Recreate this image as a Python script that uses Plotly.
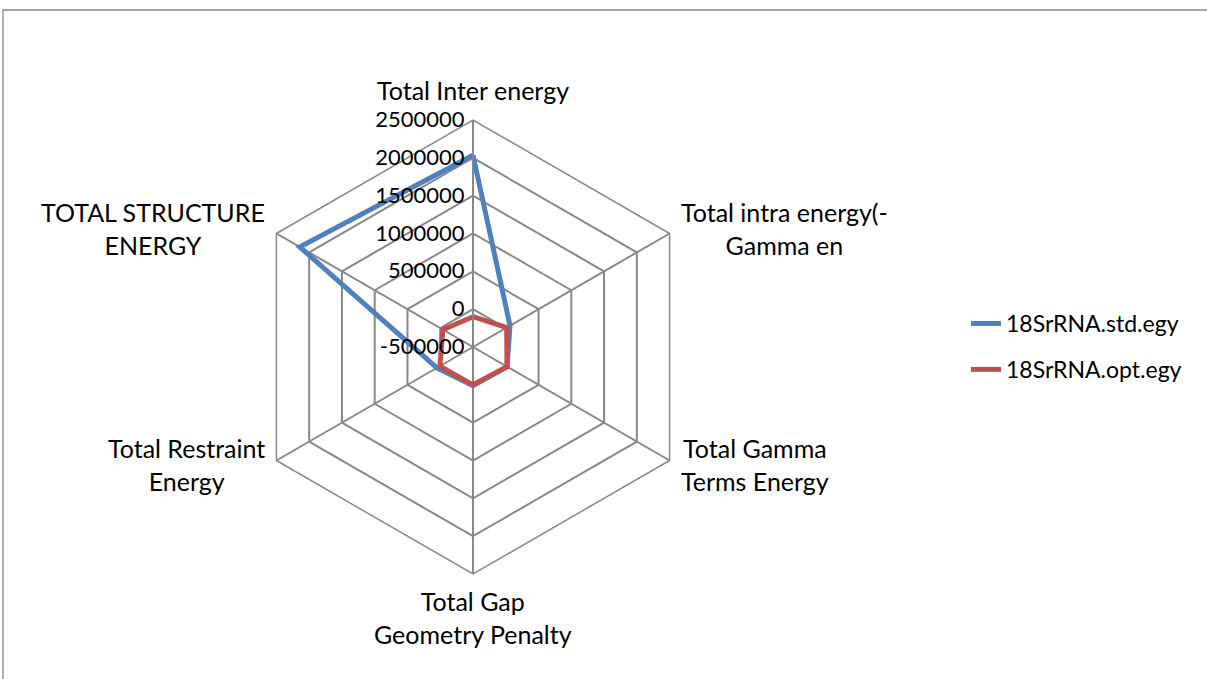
import math
import plotly.graph_objects as go

# Energy terms (clockwise from the top)
categories = [
    "Total Inter energy",
    "Total intra energy(-<br>Gamma en",
    "Total Gamma<br>Terms Energy",
    "Total Gap<br>Geometry Penalty",
    "Total Restraint<br>Energy",
    "TOTAL STRUCTURE<br>ENERGY",
]
std_egy = [2035000, 65000, 20000, 10000, 50000, 2145000]
opt_egy = [-100000, 15000, 20000, 0, 5000, -40000]

radial_ticks = [-500000, 0, 500000, 1000000, 1500000, 2000000, 2500000]

FONT = "Lato"
GRID = "#888888"

fig = go.Figure()
fig.add_trace(go.Scatterpolar(
    r=std_egy + std_egy[:1], theta=categories + categories[:1],
    mode="lines", name="18SrRNA.std.egy", legendgroup="std",
    line=dict(color="#4F81BD", width=5),
))
fig.add_trace(go.Scatterpolar(
    r=opt_egy + opt_egy[:1], theta=categories + categories[:1],
    mode="lines", name="18SrRNA.opt.egy", legendgroup="opt",
    line=dict(color="#C0504D", width=5),
))

W, H = 1207, 679
cx, cy, R = 473, 347, 227

# category labels placed just outside each outer vertex, text centred
annotations = []
n = len(categories)
for i, label in enumerate(categories):
    ang = math.pi / 2 - 2 * math.pi * i / n
    vx = cx + R * math.cos(ang)
    vy = cy - R * math.sin(ang)
    c = math.cos(ang)
    s = math.sin(ang)
    if abs(c) < 1e-6:
        xa = "center"
        ya = "bottom" if s > 0 else "top"
        px, py = vx, (vy - 13 if s > 0 else vy + 10)
    else:
        xa = "left" if c > 0 else "right"
        ya = "middle"
        px = vx + (9 if c > 0 else -9)
        py = vy - 5 if s > 0 else vy + 4
    annotations.append(dict(
        text=label, x=px / W, y=(H - py) / H, xref="paper", yref="paper",
        xanchor=xa, yanchor=ya, align="center", showarrow=False,
        font=dict(family=FONT, size=25, color="black"),
    ))

fig.update_layout(
    width=W, height=H,
    margin=dict(l=0, r=0, t=0, b=0),
    paper_bgcolor="white",
    font=dict(family=FONT, size=22, color="black"),
    polar=dict(
        domain=dict(x=[(cx - R) / W, (cx + R) / W], y=[(H - cy - R) / H, (H - cy + R) / H]),
        bgcolor="white",
        gridshape="linear",
        angularaxis=dict(
            direction="clockwise", rotation=90,
            showline=True, linecolor=GRID, linewidth=1.5,
            gridcolor=GRID, gridwidth=1.5,
            ticks="", showticklabels=False,
        ),
        radialaxis=dict(
            range=[-500000, 2500000], tickvals=radial_ticks,
            ticktext=[str(v) for v in radial_ticks],
            angle=90, tickangle=90, side="counterclockwise",
            showline=True, linecolor=GRID, linewidth=1.5,
            gridcolor=GRID, gridwidth=1.5,
            ticks="", tickfont=dict(family=FONT, size=22),
        ),
    ),
    legend=dict(
        x=966 / W, y=(H - 302) / H, xanchor="left", yanchor="top",
        font=dict(family=FONT, size=23), tracegroupgap=13,
        bgcolor="rgba(0,0,0,0)",
    ),
    annotations=annotations,
    shapes=[dict(
        type="rect", xref="paper", yref="paper",
        x0=3 / W, x1=1.05, y0=-0.05, y1=(H - 10) / H,
        line=dict(color="#868686", width=1.3),
    )],
)

fig.write_html("out.html")
